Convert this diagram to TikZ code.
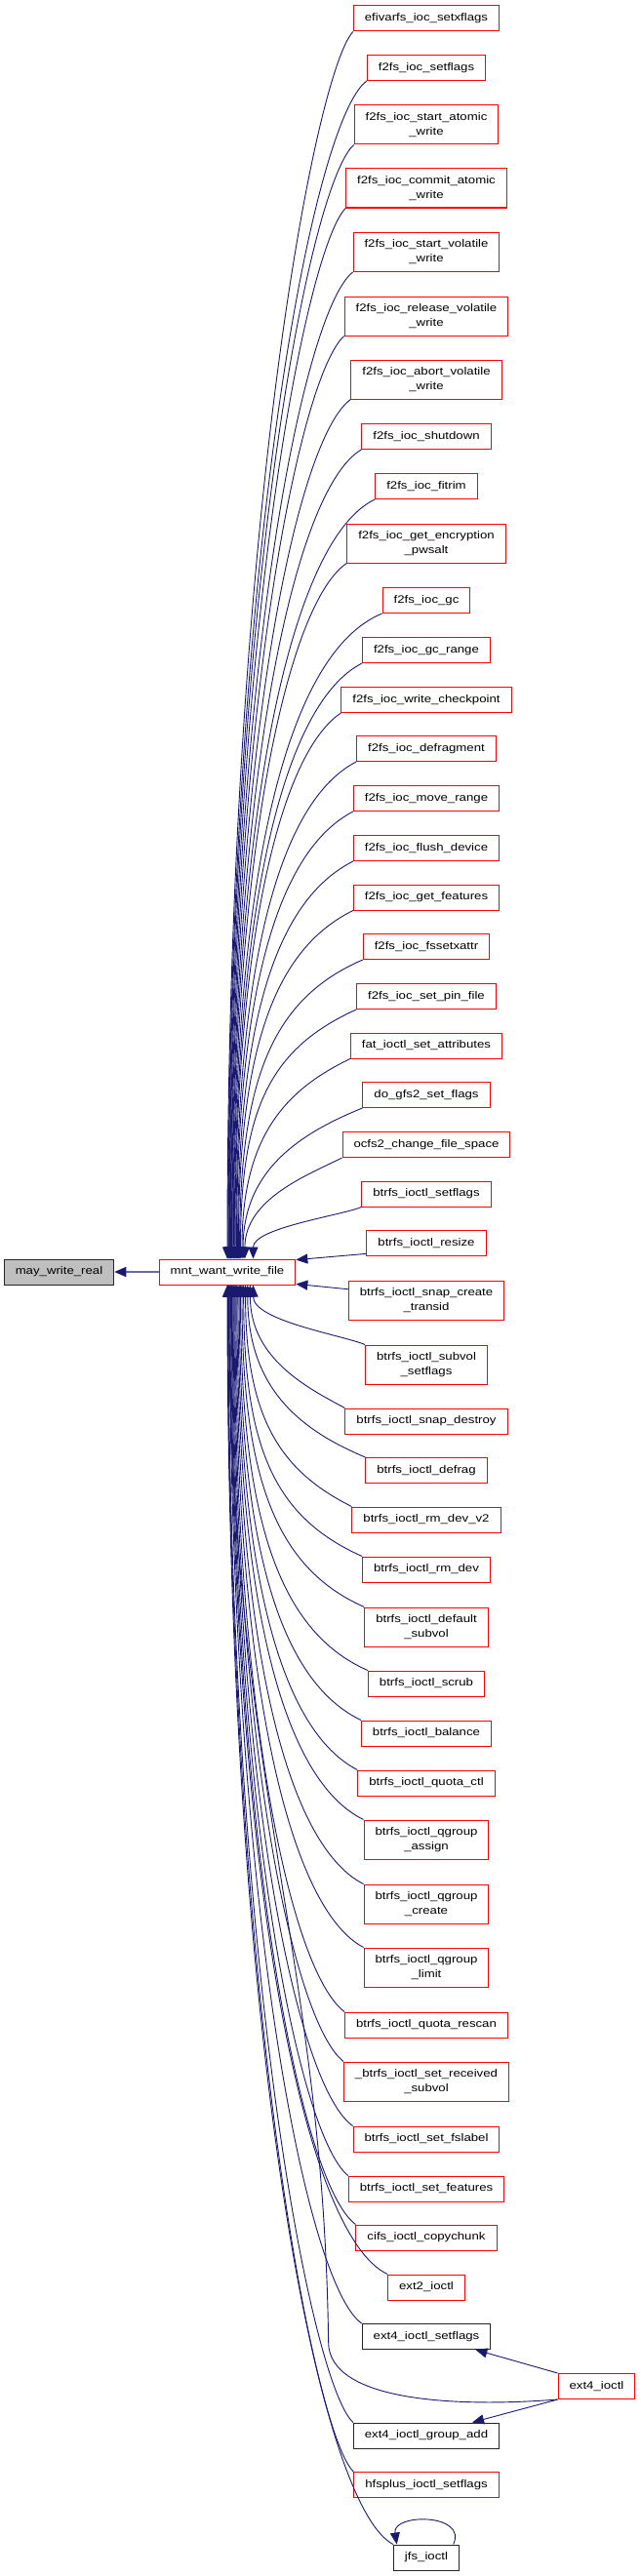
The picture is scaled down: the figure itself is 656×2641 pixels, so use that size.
\documentclass[tikz,border=0pt]{standalone}
\usepackage{fontspec}
\usepackage{tikz}
\usetikzlibrary{arrows.meta,calc}
\newfontfamily\dxfont{Liberation Sans}[FakeStretch=1.2]
\definecolor{dxblue}{RGB}{25,25,112}
\definecolor{dxred}{RGB}{255,0,0}
\definecolor{dxgrey}{RGB}{191,191,191}

\begin{document}
\begin{tikzpicture}[x=1pt, y=-1pt, font=\dxfont\fontsize{11}{15}\selectfont,
  >={Triangle[length=12pt,width=10pt]},
  fn/.style={rectangle, draw=dxred, line width=1pt, fill=white, inner xsep=11.5pt,
             inner ysep=2pt, minimum height=26pt, align=center},
  fn2/.style={fn, minimum height=40pt},
  fnk/.style={fn, draw=black!85},
  root/.style={fn, draw=black!85, fill=dxgrey},
  calls/.style={->, draw=dxblue, line width=0.9pt},
  callup/.style={calls, to path={let \p1=(\tikztostart), \p2=(\tikztotarget),
      \n1={min(1,(\y1-\y2)/250)}, \n2={\x2+0.06*(\y1-\y2)+15} in
      .. controls ({\x1-(\x1-\n2)*\n1},{\y1-40*\n1}) and (\x2,{\y2+0.6*(\y1-\y2)}) .. (\tikztotarget)}},
  calldown/.style={calls, to path={let \p1=(\tikztostart), \p2=(\tikztotarget),
      \n1={min(1,(\y2-\y1)/250)}, \n2={\x2+0.06*(\y2-\y1)+15} in
      .. controls ({\x1-(\x1-\n2)*\n1},{\y1+40*\n1}) and (\x2,{\y2-0.6*(\y2-\y1)}) .. (\tikztotarget)}}]
  \useasboundingbox (0,0) rectangle (656,2641);

  % the function and its callee
  \node[fn] (mnt) at (233,1304) {mnt\_want\_write\_file};
  \node[root] (mwr) at (60.5,1304) {may\_write\_real};
  \draw[calls, line width=1.5pt, draw=dxblue!65, -{Triangle[length=12pt,width=10pt,color=dxblue]}] (mnt) -- (mwr);

  % callers above
  \node[fn]  (efi)     at (437,19)     {efivarfs\_ioc\_setxflags};
  \node[fn]  (fsetfl)  at (437,69.5)   {f2fs\_ioc\_setflags};
  \node[fn2] (fstatom) at (437,128)    {f2fs\_ioc\_start\_atomic\\\_write};
  \node[fn2] (fcommit) at (437,193)    {f2fs\_ioc\_commit\_atomic\\\_write};
  \node[fn2] (fstvol)  at (437,258.5)  {f2fs\_ioc\_start\_volatile\\\_write};
  \node[fn2] (frelvol) at (437,324)    {f2fs\_ioc\_release\_volatile\\\_write};
  \node[fn2] (fabvol)  at (437,389)    {f2fs\_ioc\_abort\_volatile\\\_write};
  \node[fn]  (fshut)   at (437,447.5)  {f2fs\_ioc\_shutdown};
  \node[fn]  (ftrim)   at (437,498.5)  {f2fs\_ioc\_fitrim};
  \node[fn2] (fpwsalt) at (437,557)    {f2fs\_ioc\_get\_encryption\\\_pwsalt};
  \node[fn]  (fgc)     at (437,615.5)  {f2fs\_ioc\_gc};
  \node[fn]  (fgcr)    at (437,666.5)  {f2fs\_ioc\_gc\_range};
  \node[fn]  (fckpt)   at (437,717.5)  {f2fs\_ioc\_write\_checkpoint};
  \node[fn]  (fdefrag) at (437,767.5)  {f2fs\_ioc\_defragment};
  \node[fn]  (fmove)   at (437,818.5)  {f2fs\_ioc\_move\_range};
  \node[fn]  (fflush)  at (437,869.5)  {f2fs\_ioc\_flush\_device};
  \node[fn]  (ffeat)   at (437,920)    {f2fs\_ioc\_get\_features};
  \node[fn]  (fxattr)  at (437,970.5)  {f2fs\_ioc\_fssetxattr};
  \node[fn]  (fpin)    at (437,1021.5) {f2fs\_ioc\_set\_pin\_file};
  \node[fn]  (fat)     at (437,1072)   {fat\_ioctl\_set\_attributes};
  \node[fn]  (gfs)     at (437,1122.5) {do\_gfs2\_set\_flags};
  \node[fn]  (ocfs)    at (437,1173.5) {ocfs2\_change\_file\_space};
  \node[fn]  (bsetfl)  at (437,1224)   {btrfs\_ioctl\_setflags};
  \node[fn]  (bresize) at (437,1274.5) {btrfs\_ioctl\_resize};

  % callers below
  \node[fn2] (bsnapc)  at (437,1333)   {btrfs\_ioctl\_snap\_create\\\_transid};
  \node[fn2] (bsubvol) at (437,1399)   {btrfs\_ioctl\_subvol\\\_setflags};
  \node[fn]  (bsnapd)  at (437,1457)   {btrfs\_ioctl\_snap\_destroy};
  \node[fn]  (bdefrag) at (437,1507.5) {btrfs\_ioctl\_defrag};
  \node[fn]  (brmv2)   at (437,1558)   {btrfs\_ioctl\_rm\_dev\_v2};
  \node[fn]  (brm)     at (437,1609)   {btrfs\_ioctl\_rm\_dev};
  \node[fn2] (bdefsub) at (437,1668)   {btrfs\_ioctl\_default\\\_subvol};
  \node[fn]  (bscrub)  at (437,1726)   {btrfs\_ioctl\_scrub};
  \node[fn]  (bbal)    at (437,1777)   {btrfs\_ioctl\_balance};
  \node[fn]  (bqctl)   at (437,1828)   {btrfs\_ioctl\_quota\_ctl};
  \node[fn2] (bqasgn)  at (437,1886)   {btrfs\_ioctl\_qgroup\\\_assign};
  \node[fn2] (bqcreat) at (437,1952)   {btrfs\_ioctl\_qgroup\\\_create};
  \node[fn2] (bqlimit) at (437,2017)   {btrfs\_ioctl\_qgroup\\\_limit};
  \node[fn]  (bqresc)  at (437,2076)   {btrfs\_ioctl\_quota\_rescan};
  \node[fn2] (brecv)   at (437,2134)   {\_btrfs\_ioctl\_set\_received\\\_subvol};
  \node[fn]  (blabel)  at (437,2193)   {btrfs\_ioctl\_set\_fslabel};
  \node[fn]  (bfeat)   at (437,2244)   {btrfs\_ioctl\_set\_features};
  \node[fn]  (cifs)    at (437,2294)   {cifs\_ioctl\_copychunk};
  \node[fn]  (ext2)    at (437,2345)   {ext2\_ioctl};
  \node[fnk] (e4setfl) at (437,2395.5) {ext4\_ioctl\_setflags};
  \node[fnk] (e4grp)   at (437,2497)   {ext4\_ioctl\_group\_add};
  \node[fn]  (hfs)     at (437,2547.5) {hfsplus\_ioctl\_setflags};
  \node[fnk] (jfs)     at (437,2622)   {jfs\_ioctl};
  \node[fn]  (e4)      at (611.5,2446.5) {ext4\_ioctl};

  % edges into mnt_want_write_file, top side
  \draw[callup] (efi.south west) to (mnt.90);     \draw[callup] (fsetfl.south west) to (mnt.87.5);
  \draw[callup] (fstatom.south west) to (mnt.85); \draw[callup] (fcommit.south west) to (mnt.82.5);
  \draw[callup] (fstvol.south west) to (mnt.80);  \draw[callup] (frelvol.south west) to (mnt.77.5);
  \draw[callup] (fabvol.south west) to (mnt.75);  \draw[callup] (fshut.south west) to (mnt.72.5);
  \draw[callup] (ftrim.south west) to (mnt.70);   \draw[callup] (fpwsalt.south west) to (mnt.67.5);
  \draw[callup] (fgc.south west) to (mnt.65);     \draw[callup] (fgcr.south west) to (mnt.62.5);
  \draw[callup] (fckpt.south west) to (mnt.60);   \draw[callup] (fdefrag.south west) to (mnt.57.5);
  \draw[callup] (fmove.south west) to (mnt.55);   \draw[callup] (fflush.south west) to (mnt.52.5);
  \draw[callup] (ffeat.south west) to (mnt.50);   \draw[callup] (fxattr.south west) to (mnt.47.5);
  \draw[callup] (fpin.south west) to (mnt.45);    \draw[callup] (fat.south west) to (mnt.42.5);
  \draw[callup] (gfs.south west) to (mnt.40);     \draw[callup] (ocfs.south west) to (mnt.37.5);
  \draw[callup] (bsetfl.south west) to (mnt.27);

  % edges into its right side
  \draw[calls] (bresize.-170) -- (mnt.10);
  \draw[calls] (bsnapc.172) -- (mnt.-10);

  % edges into its bottom side
  \draw[calldown] (bsubvol.north west) to (mnt.-27); \draw[calldown] (bsnapd.north west) to (mnt.-30);
  \draw[calldown] (bdefrag.north west) to (mnt.-33); \draw[calldown] (brmv2.north west) to (mnt.-36);
  \draw[calldown] (brm.north west) to (mnt.-39);     \draw[calldown] (bdefsub.north west) to (mnt.-42);
  \draw[calldown] (bscrub.north west) to (mnt.-45);  \draw[calldown] (bbal.north west) to (mnt.-48);
  \draw[calldown] (bqctl.north west) to (mnt.-51);   \draw[calldown] (bqasgn.north west) to (mnt.-54);
  \draw[calldown] (bqcreat.north west) to (mnt.-57); \draw[calldown] (bqlimit.north west) to (mnt.-60);
  \draw[calldown] (bqresc.north west) to (mnt.-63);  \draw[calldown] (brecv.north west) to (mnt.-66);
  \draw[calldown] (blabel.north west) to (mnt.-69);  \draw[calldown] (bfeat.north west) to (mnt.-72);
  \draw[calldown] (cifs.north west) to (mnt.-75);    \draw[calldown] (ext2.north west) to (mnt.-78);
  \draw[calldown] (e4setfl.north west) to (mnt.-81); \draw[calldown] (e4grp.north west) to (mnt.-86);
  \draw[calldown] (hfs.north west) to (mnt.-88);     \draw[calldown] (jfs.north west) to (mnt.-90);
  \draw[calls] (e4.south west) .. controls +(-100,8) and +(0,62) .. ++(-235,-59)
    .. controls +(-5,-400) and +(0,500) .. (mnt.-84);

  % ext4_ioctl and the jfs self call
  \draw[calls] (e4.north west) -- (e4setfl.-15);
  \draw[calls] (e4.south west) -- (e4grp.16);
  \draw[calls] (jfs.26) .. controls +(15,-32) and +(-5,-32) .. (jfs.156);
\end{tikzpicture}
\end{document}
